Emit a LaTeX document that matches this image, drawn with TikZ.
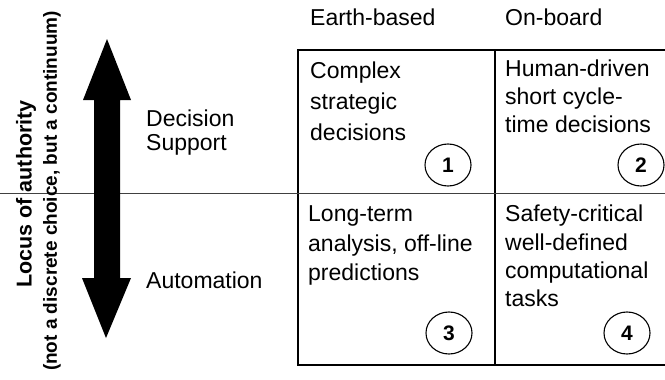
\documentclass[tikz,border=0pt]{standalone}
\usepackage{fontspec}
\setmainfont{Liberation Sans}
\usetikzlibrary{shapes.geometric}
\begin{document}
\begin{tikzpicture}[x=1pt,y=-1pt,
  lbl/.style={anchor=base west, inner sep=0pt, font=\fontsize{23}{28}\selectfont},
  num/.style={draw, ellipse, line width=1.1pt, minimum width=46pt, minimum height=42pt, inner sep=0pt, font=\fontsize{21}{24}\selectfont\bfseries},
  gridline/.style={line width=1.4pt},
  midline/.style={line width=1pt, black!75},
  rotlbl/.style={rotate=90, inner sep=0pt}]
\useasboundingbox (0,0) rectangle (665,380);

% table frame
\coordinate (tl) at (298,50);
\coordinate (tr) at (665,50);
\coordinate (bl) at (298,365);
\coordinate (br) at (665,365);
\coordinate (tm) at (495,50);
\coordinate (bm) at (495,365);
\coordinate (ml) at (0,193);
\coordinate (mr) at (665,193);
\draw[gridline] (tr) -- (tl) -- (bl) -- (br);
\draw[gridline] (tm) -- (bm);
\draw[midline] (ml) -- (mr);

% big double arrow
\fill (107,39) -- (131,100) -- (120,100) -- (120,278) -- (131,278) -- (106,338)
  -- (82,278) -- (94,278) -- (94,100) -- (83,100) -- cycle;

% rotated labels
\node[rotlbl, font=\fontsize{21.5}{24}\selectfont\bfseries] (locus) at (26,194) {Locus of authority};
\node[rotlbl, font=\fontsize{19}{22}\selectfont\bfseries] (cont) at (52,191) {(not a discrete choice, but a continuum)};

% side labels
\node[lbl] (dec) at (146,126) {Decision};
\node[lbl] (sup) at (146,150) {Support};
\node[lbl] (aut) at (146,288) {Automation};

% column headers
\node[lbl] (earth) at (310,26) {Earth-based};
\node[lbl] (onb) at (505,26) {On-board};

% cell 1
\node[lbl] (c1a) at (310,78) {Complex};
\node[lbl] (c1b) at (310,109) {strategic};
\node[lbl] (c1c) at (310,140) {decisions};
% cell 2
\node[lbl] (c2a) at (505,76) {Human-driven};
\node[lbl] (c2b) at (505,104) {short cycle-};
\node[lbl] (c2c) at (505,132) {time decisions};
% cell 3
\node[lbl] (c3a) at (308,221) {Long-term};
\node[lbl] (c3b) at (308,251) {analysis, off-line};
\node[lbl] (c3c) at (308,280) {predictions};
% cell 4
\node[lbl] (c4a) at (505,221) {Safety-critical};
\node[lbl] (c4b) at (505,250) {well-defined};
\node[lbl] (c4c) at (505,278) {computational};
\node[lbl] (c4d) at (505,306) {tasks};

% numbered circles
\node[num] (n1) at (448,165) {1};
\node[num] (n2) at (641,165) {2};
\node[num] (n3) at (449,333) {3};
\node[num] (n4) at (627,333) {4};
\end{tikzpicture}
\end{document}
